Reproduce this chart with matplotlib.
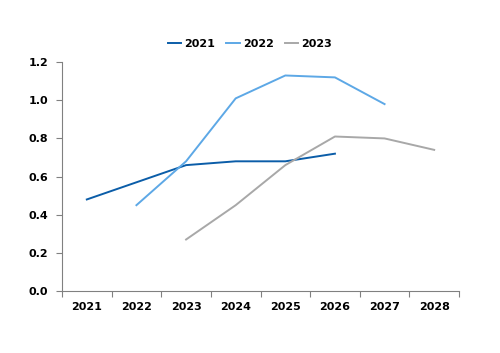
import numpy as np
import matplotlib
matplotlib.use("Agg")
from matplotlib import pyplot as plt

years = ["2021", "2022", "2023", "2024", "2025", "2026", "2027", "2028"]
s2021 = [0.48, 0.57, 0.66, 0.68, 0.68, 0.72, None, None]
s2022 = [None, 0.45, 0.68, 1.01, 1.13, 1.12, 0.98, None]
s2023 = [None, None, 0.27, 0.45, 0.66, 0.81, 0.80, 0.74]
names = ["2021", "2022", "2023"]
colors = ["#0B5DA8", "#5DA8E6", "#A8A8A8"]

plt.rcParams['font.family'] = ['DejaVu Sans']
fig = plt.figure(figsize=(5, 3.53), dpi=100)
ax = fig.add_axes([0.124, 0.1756, 0.794, 0.6484])

x = np.arange(len(years))
for vals, name, c in zip([s2021, s2022, s2023], names, colors):
    v = np.array([np.nan if a is None else a for a in vals], dtype=float)
    ax.plot(x, v, color=c, lw=1.4, label=name)

ax.set_xlim(-0.5, len(years) - 0.5)
ax.set_ylim(0, 1.2)
ax.set_yticks(np.arange(0, 1.21, 0.2))
ax.set_yticklabels([f"{t:.1f}" for t in np.arange(0, 1.21, 0.2)], fontsize=8, fontweight='bold')
ax.set_xticks(np.arange(-0.5, len(years)), minor=False)
ax.set_xticklabels([])
ax.set_xticks(x, minor=True)
ax.set_xticklabels(years, minor=True, fontsize=8, fontweight='bold')
ax.tick_params(axis='x', which='minor', length=0, pad=8)
ax.tick_params(axis='x', which='major', length=4, color='#808080')
ax.tick_params(axis='y', length=4, color='#808080', pad=6)
for s in ['top', 'right']:
    ax.spines[s].set_visible(False)
for s in ['left', 'bottom']:
    ax.spines[s].set_color('#808080')

fig.legend(loc='center', bbox_to_anchor=(0.5, 0.875), ncol=3, frameon=False,
           prop={'size': 8, 'weight': 'bold'}, handlelength=1.2, handletextpad=0.3,
           columnspacing=1.0)

fig.savefig("out.png", dpi=100)
